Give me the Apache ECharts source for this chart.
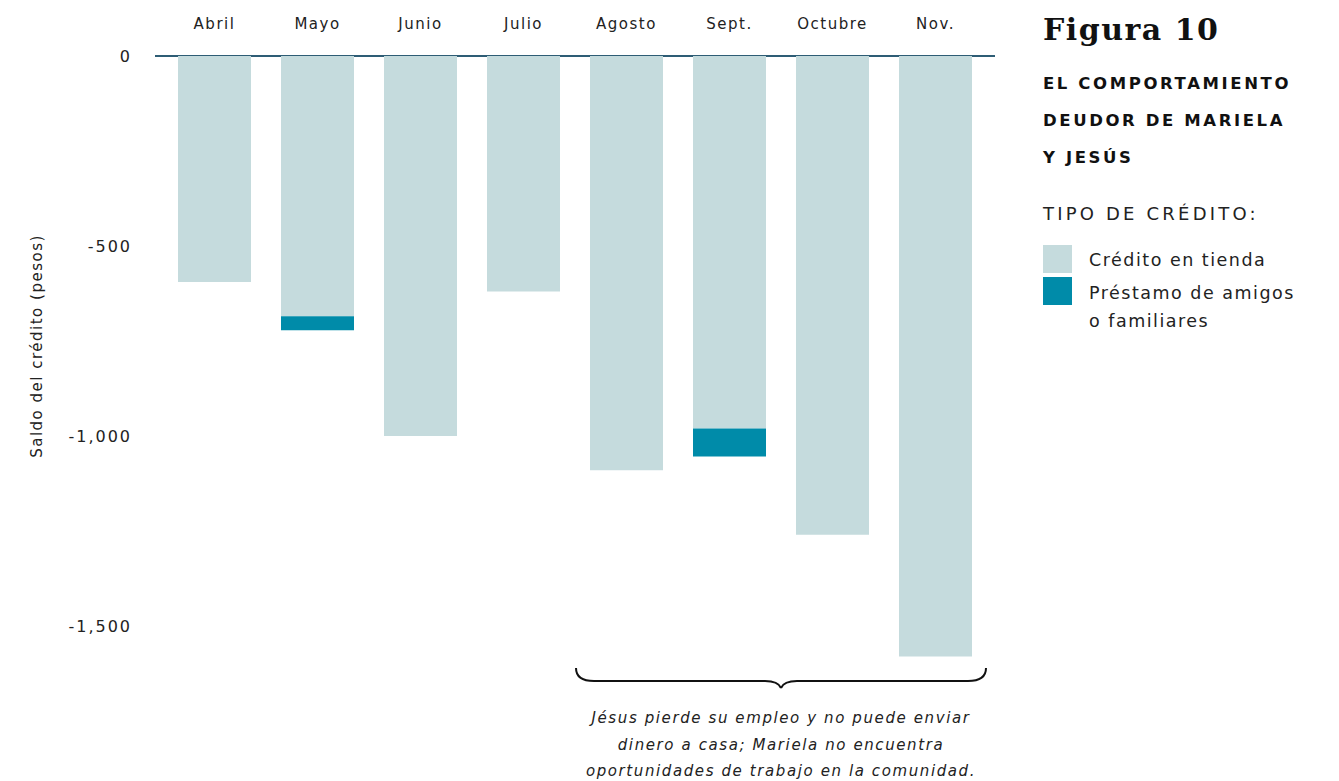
<!DOCTYPE html>
<html>
<head>
<meta charset="utf-8">
<script src="https://cdn.jsdelivr.net/npm/echarts@6/dist/echarts.min.js"></script>
<style>
html,body{margin:0;padding:0;background:#fff;}
#chart{width:1339px;height:781px;}
#chart svg text{letter-spacing:1.5px;}
</style>
</head>
<body>
<div id="chart"></div>
<script>
const months = ['Abril','Mayo','Junio','Julio','Agosto','Sept.','Octubre','Nov.'];
const creditoTienda = [-595, -685, -1000, -620, -1090, -980, -1260, -1580];
const prestamoAmigos = [null, -37, null, null, null, -74, null, null];
const seriesNames = ['Crédito en tienda', 'Préstamo de amigos o familiares'];
const yTicks = [0, -500, -1000, -1500];

const LIGHT = '#c5dbdd';
const DARK = '#008ba9';
const AXIS = '#2e5d75';
const FONT = '"DejaVu Sans", sans-serif';

const chart = echarts.init(document.getElementById('chart'), null, { renderer: 'svg' });

function fmt(v){
  if (v === 0) return '0';
  const a = Math.abs(v).toLocaleString('en-US');
  return (v < 0 ? '-' : '') + a;
}

chart.setOption({
  backgroundColor: '#ffffff',
  animation: false,
  grid: { left: 163, top: 56, width: 824, height: 665, containLabel: false },
  xAxis: {
    type: 'category',
    data: months,
    position: 'top',
    axisLine: { show: true, lineStyle: { color: AXIS, width: 2 } },
    axisTick: { show: false },
    axisLabel: { margin: 25, color: '#222', fontFamily: FONT, fontSize: 15 },
    splitLine: { show: false }
  },
  yAxis: {
    type: 'value',
    min: -1750,
    max: 0,
    interval: 250,
    axisLine: { show: false },
    axisTick: { show: false },
    splitLine: { show: false },
    axisLabel: {
      margin: 31, color: '#222', fontFamily: FONT, fontSize: 16,
      formatter: v => yTicks.indexOf(v) >= 0 ? fmt(v) : ''
    }
  },
  series: [
    {
      name: seriesNames[0], type: 'bar', stack: 'saldo', data: creditoTienda,
      barWidth: 73, itemStyle: { color: LIGHT }
    },
    {
      name: seriesNames[1], type: 'bar', stack: 'saldo', data: prestamoAmigos,
      barWidth: 73, itemStyle: { color: DARK }
    }
  ]
});

// Annotation positions derived from the axes
const pA = chart.convertToPixel({ gridIndex: 0 }, ['Agosto', 0]);
const pN = chart.convertToPixel({ gridIndex: 0 }, ['Nov.', 0]);
const pF = chart.convertToPixel({ gridIndex: 0 }, ['Abril', 0]);
const x0 = pA[0] - 36.5 - 14, x1 = pN[0] + 36.5 + 14;
const xm = (x0 + x1) / 2;
const yt = 668, yb = 681, yp = 688;
const BR = { stroke: '#111', lineWidth: 2, fill: null };

const noteLines = ['Jésus pierde su empleo y no puede enviar', 'dinero a casa; Mariela no encuentra', 'oportunidades de trabajo en la comunidad.'];
const subtitleLines = ['EL COMPORTAMIENTO', 'DEUDOR DE MARIELA', 'Y JESÚS'];

const graphics = [
  // extend the zero line slightly beyond the plot, as in the original
  { type: 'line', shape: { x1: pF[0] - 51.5 - 8, y1: pF[1], x2: pN[0] + 51.5 + 8, y2: pF[1] }, style: { stroke: AXIS, lineWidth: 2 } },
  { type: 'bezierCurve', shape: { x1: x0, y1: yt, x2: x0 + 18, y2: yb, cpx1: x0, cpy1: yb }, style: BR },
  { type: 'line', shape: { x1: x0 + 18, y1: yb, x2: xm - 16, y2: yb }, style: BR },
  { type: 'bezierCurve', shape: { x1: xm - 16, y1: yb, x2: xm, y2: yp, cpx1: xm - 3, cpy1: yb }, style: BR },
  { type: 'bezierCurve', shape: { x1: xm, y1: yp, x2: xm + 16, y2: yb, cpx1: xm + 3, cpy1: yb }, style: BR },
  { type: 'line', shape: { x1: xm + 16, y1: yb, x2: x1 - 18, y2: yb }, style: BR },
  { type: 'bezierCurve', shape: { x1: x1 - 18, y1: yb, x2: x1, y2: yt, cpx1: x1, cpy1: yb }, style: BR },
  // y-axis name
  { type: 'text', x: 37, y: 346, rotation: Math.PI / 2,
    style: { text: 'Saldo del crédito (pesos)', fill: '#222', font: '15px ' + FONT, align: 'center', verticalAlign: 'middle' } },
  // right panel
  { type: 'text', x: 1043, y: 29,
    style: { text: 'Figura 10', fill: '#111', font: 'bold 30px "DejaVu Serif", serif', verticalAlign: 'middle' } },
  { type: 'text', x: 1043, y: 213, style: { text: 'TIPO DE CRÉDITO:', fill: '#222', font: '18px ' + FONT, verticalAlign: 'middle' } },
  { type: 'rect', shape: { x: 1043, y: 245, width: 29, height: 28 }, style: { fill: LIGHT } },
  { type: 'rect', shape: { x: 1043, y: 277, width: 29, height: 28 }, style: { fill: DARK } },
  { type: 'text', x: 1089, y: 260, style: { text: 'Crédito en tienda', fill: '#222', font: '17.5px ' + FONT, verticalAlign: 'middle' } },
  { type: 'text', x: 1089, y: 293, style: { text: 'Préstamo de amigos', fill: '#222', font: '17.5px ' + FONT, verticalAlign: 'middle' } },
  { type: 'text', x: 1089, y: 321, style: { text: 'o familiares', fill: '#222', font: '17.5px ' + FONT, verticalAlign: 'middle' } }
];
subtitleLines.forEach((t, i) => {
  graphics.push({ type: 'text', x: 1043, y: 83 + i * 37,
    style: { text: t, fill: '#111', font: 'bold 16.5px ' + FONT, verticalAlign: 'middle' } });
});
noteLines.forEach((t, i) => {
  graphics.push({ type: 'text', x: xm, y: 718 + i * 26.5,
    style: { text: t, fill: '#222', font: 'italic 15px ' + FONT, align: 'center', verticalAlign: 'middle' } });
});
chart.setOption({ graphic: graphics });

function applySpacing(){
  document.querySelectorAll('#chart svg text').forEach(el => {
    const t = el.textContent.trim();
    let s = '1.5px';
    if (subtitleLines.indexOf(t) >= 0) s = '2.6px';
    else if (t === 'TIPO DE CRÉDITO:') s = '3.2px';
    else if (/^-?[\d,]+$/.test(t)) s = '2px';
    else if (noteLines.indexOf(t) >= 0) s = '1.6px';
    el.style.letterSpacing = s;
  });
}
applySpacing();
chart.on('finished', applySpacing);
</script>
</body>
</html>
